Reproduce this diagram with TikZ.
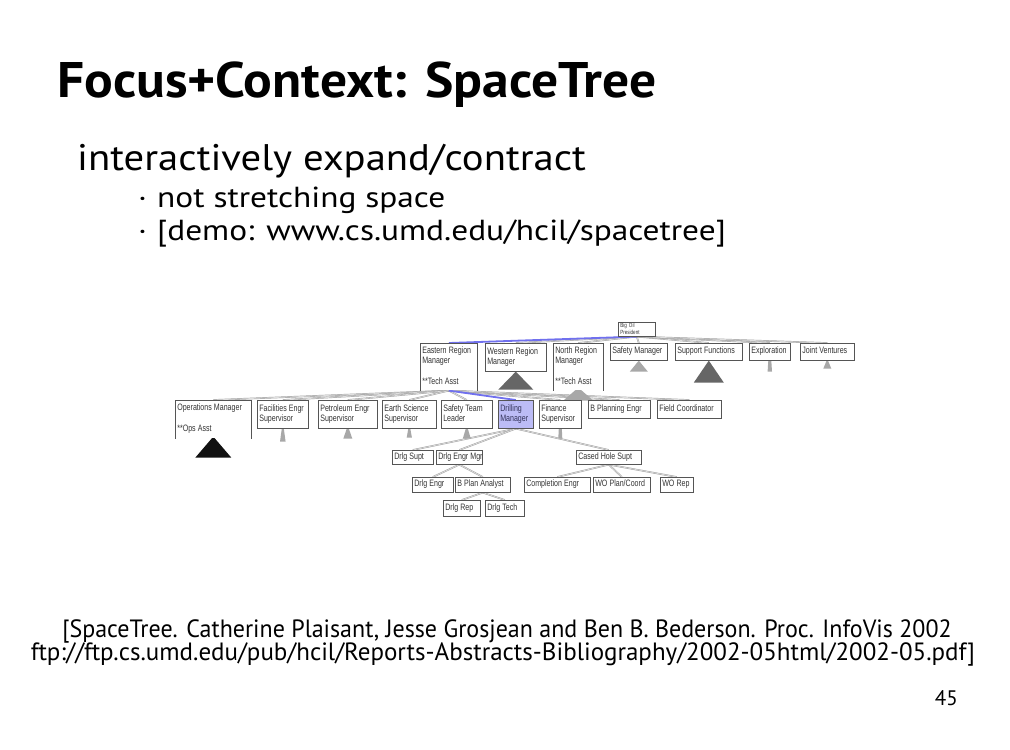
\documentclass[tikz,border=0pt]{standalone}
\usepackage{fontspec}
\setmainfont{PT Sans}
\newfontfamily\titlefont[FakeStretch=1.07]{PT Sans}
\newfontfamily\subfont[FakeStretch=1.10]{PT Sans}
\newfontfamily\bulfont[FakeStretch=1.15]{PT Sans}
\newfontfamily\citeAfont[FakeStretch=0.96]{PT Sans}
\newfontfamily\boxfont[FakeStretch=0.76]{Liberation Sans}
\newcommand\boxtextfont{\boxfont\fontsize{9.3}{10.5}\selectfont}
\newcommand\tightspace{\spaceskip=2.1pt plus 0.5pt minus 0.3pt\relax\xspaceskip=2.1pt\relax}
\usetikzlibrary{backgrounds}
\definecolor{boxline}{HTML}{555555}
\definecolor{boxtext}{HTML}{333333}
\definecolor{focusfill}{HTML}{BCBCF6}
\definecolor{focustext}{HTML}{33335A}
\definecolor{focusedge}{HTML}{7070EE}
\definecolor{darktri}{HTML}{666666}
\definecolor{lighttri}{HTML}{A8A8A8}
\definecolor{blacktri}{HTML}{111111}
\begin{document}
\begin{tikzpicture}[x=1pt,y=-1pt,
  tbox/.style={draw=boxline, line width=0.6pt, fill=white, anchor=north west,
    inner xsep=2pt, inner ysep=1pt, align=left, text=boxtext,
    font=\boxtextfont, execute at begin node={\tightspace\strut}, execute at end node=\strut},
  openbox/.style={tbox, draw=none},
  focus/.style={tbox, fill=focusfill, text=focustext},
  tedge/.style={draw=gray!75, double=gray!25, double distance=0.7pt, line width=0.45pt},
  fedge/.style={draw=focusedge, line width=1.8pt},
  sidelines/.style={draw=boxline, line width=0.6pt},
  slide/.style={anchor=base west, inner sep=0pt, text=black}
]
\useasboundingbox (0,0) rectangle (1010,750);
\begin{scope}[on background layer]
  \fill[white] (0,0) rectangle (1010,750);
\end{scope}

% ---------- slide text ----------
\node[slide, font=\titlefont\bfseries\fontsize{50}{60}\selectfont] (title) at (57,97) {Focus+Context: SpaceTree};
\node[slide, font=\subfont\fontsize{37}{44}\selectfont] (sub) at (77,170) {interactively expand/contract};
\node[slide, font=\bulfont\fontsize{29}{34}\selectfont] (b1) at (138,207) {\makebox[19pt][l]{·}not stretching space};
\node[slide, font=\bulfont\fontsize{29}{34}\selectfont] (b2) at (138,240) {\makebox[19pt][l]{·}[demo: www.cs.umd.edu/hcil/spacetree]};
\node[anchor=base, inner sep=0pt, font=\citeAfont\fontsize{25}{30}\selectfont] (cite1) at (507,637) {[SpaceTree. Catherine Plaisant, Jesse Grosjean and Ben B. Bederson. Proc. InfoVis 2002};
\node[anchor=base, inner sep=0pt, font=\fontsize{25}{30}\selectfont] (cite2) at (503,660) {ftp://ftp.cs.umd.edu/pub/hcil/Reports-Abstracts-Bibliography/2002-05html/2002-05.pdf]};
\node[anchor=base east, inner sep=0pt, font=\fontsize{21}{25}\selectfont] (pnum) at (958,705) {45};

% ---------- tree nodes ----------
\node[tbox, text width=33pt, minimum height=14pt, inner ysep=0.5pt,
  execute at begin node={}, execute at end node={},
  font=\boxfont\fontsize{6}{5.5}\selectfont] (pres) at (618,322) {Big Oil\\President};

% row 1
\node[openbox, text width=53pt, minimum height=47pt] (east) at (420,343) {Eastern Region\\Manager\\\mbox{}\\{}**Tech Asst};
\node[tbox, text width=57pt, minimum height=28pt] (west) at (485,343) {Western Region\\Manager};
\node[openbox, text width=46pt, minimum height=47pt] (north) at (553,343) {North Region\\Manager\\\mbox{}\\{}**Tech Asst};
\node[tbox, text width=53pt, minimum height=17pt] (safety) at (610,343) {Safety Manager};
\node[tbox, text width=63pt, minimum height=17pt] (support) at (675,343) {Support Functions};
\node[tbox, text width=37pt, minimum height=17pt] (explor) at (749,343) {Exploration};
\node[tbox, text width=50pt, minimum height=17pt] (joint) at (800,343) {Joint Ventures};

% row 2
\node[openbox, text width=72pt, minimum height=38pt] (ops) at (175,400) {Operations Manager\\\mbox{}\\{}**Ops Asst};
\node[tbox, text width=47pt, minimum height=28pt] (fac) at (257,400) {Facilities Engr\\Supervisor};
\node[tbox, text width=55pt, minimum height=28pt] (pet) at (318,400) {Petroleum Engr\\Supervisor};
\node[tbox, text width=50pt, minimum height=28pt] (earth) at (382,400) {Earth Science\\Supervisor};
\node[tbox, text width=47pt, minimum height=28pt] (steam) at (441,400) {Safety Team\\Leader};
\node[focus, text width=31pt, minimum height=28pt] (drill) at (498,400) {Drilling\\Manager};
\node[tbox, text width=38pt, minimum height=28pt] (fin) at (539,400) {Finance\\Supervisor};
\node[tbox, text width=58pt, minimum height=18pt] (bplan) at (588,400) {B Planning Engr};
\node[tbox, text width=60pt, minimum height=18pt] (field) at (657,400) {Field Coordinator};

% row 3
\node[tbox, text width=37pt, minimum height=14pt] (dsupt) at (392,450) {Drlg Supt};
\node[tbox, text width=42pt, minimum height=14pt] (demgr) at (436,450) {\mbox{Drlg Engr Mgr}};
\node[tbox, text width=61pt, minimum height=14pt] (cased) at (576,450) {Cased Hole Supt};

% row 4
\node[tbox, text width=37pt, minimum height=15pt] (dengr) at (412,477) {Drlg Engr};
\node[tbox, text width=51pt, minimum height=15pt] (bpa) at (455,477) {B Plan Analyst};
\node[tbox, text width=62pt, minimum height=15pt] (compl) at (524,477) {Completion Engr};
\node[tbox, text width=53pt, minimum height=15pt] (wopc) at (593,477) {WO Plan/Coord};
\node[tbox, text width=29pt, minimum height=15pt] (worep) at (660,477) {WO Rep};

% row 5
\node[tbox, text width=33pt, minimum height=16pt] (drep) at (443,500) {Drlg Rep};
\node[tbox, text width=35pt, minimum height=16pt] (dtech) at (485,500) {Drlg Tech};

% open-bottom box sides
\draw[sidelines] (east.south west) |- (east.north east) -- (east.south east);
\draw[sidelines] (north.south west) |- (north.north east) -- (north.south east);
\draw[sidelines] (ops.south west) |- (ops.north east) -- (ops.south east);

% ---------- edges and collapsed subtrees (behind boxes) ----------
\begin{scope}[on background layer]
  \foreach \c in {west,north,safety,support,explor,joint}
    \draw[tedge] (pres.south) -- (\c.north);
  \draw[fedge] (pres.south) -- (east.north);
  \foreach \c in {ops,fac,pet,earth,steam,fin,bplan,field}
    \draw[tedge] (east.south) -- (\c.north);
  \draw[fedge] (east.south) -- (drill.north);
  \foreach \c in {dsupt,demgr,cased}
    \draw[tedge] (drill.south) -- (\c.north);
  \foreach \c in {dengr,bpa}
    \draw[tedge] (demgr.south) -- (\c.north);
  \foreach \c in {compl,wopc,worep}
    \draw[tedge] (cased.south) -- (\c.north);
  \foreach \c in {drep,dtech}
    \draw[tedge] (bpa.south) -- (\c.north);

  % collapsed subtree markers
  \fill[darktri, shift={(west.south)}] (0,0) -- (17.5,18) -- (-17.5,18) -- cycle;
  \fill[lighttri, shift={(safety.south)}] (0,0) -- (9,11) -- (-9,11) -- cycle;
  \fill[darktri, shift={(support.south)}] (0,0) -- (15,22) -- (-15,22) -- cycle;
  \fill[lighttri, shift={(explor.south)}] (-1.5,0) -- (1.5,0) -- (2.2,11) -- (-2.2,11) -- cycle;
  \fill[lighttri, shift={(joint.south)}] (-0.7,0) -- (0.7,0) -- (4,8) -- (-4,8) -- cycle;
  \fill[lighttri, shift={(north.south)}] (0,-3) -- (15,10) -- (-15,10) -- cycle;
  \fill[blacktri, shift={(ops.south)}] (0,-2) -- (18,19) -- (-18,19) -- cycle;
  \fill[lighttri, shift={(fac.south)}] (-1,0) -- (1,0) -- (2.8,13) -- (-2.8,13) -- cycle;
  \fill[lighttri, shift={(pet.south)}] (-1,0) -- (1,0) -- (4.5,10) -- (-4.5,10) -- cycle;
  \fill[lighttri, shift={(earth.south)}] (-1,0) -- (1,0) -- (2.6,9) -- (-2.6,9) -- cycle;
  \fill[lighttri, shift={(steam.south)}] (-1,0) -- (1,0) -- (4,10) -- (-4,10) -- cycle;
  \fill[lighttri, shift={(fin.south)}] (-1.5,0) -- (1.5,0) -- (2,10) -- (-2,10) -- cycle;
\end{scope}
\end{tikzpicture}
\end{document}
